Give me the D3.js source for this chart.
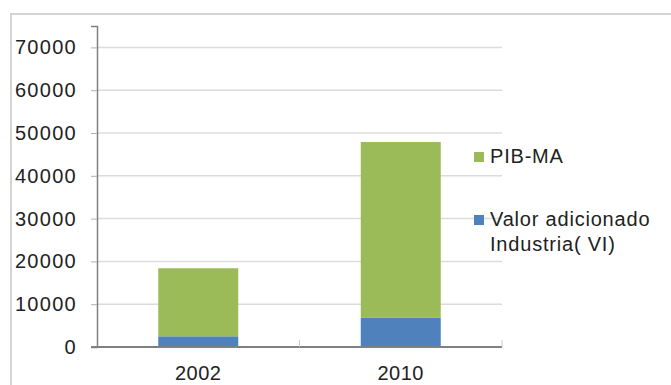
<!DOCTYPE html>
<html>
<head>
<meta charset="utf-8">
<script src="https://cdn.jsdelivr.net/npm/d3@7/dist/d3.min.js"></script>
<style>
  html, body { margin: 0; padding: 0; background: #fff; }
  svg { display: block; }
  text { font-family: "Liberation Sans", Arial, sans-serif; fill: #222; }
</style>
</head>
<body>
<svg id="chart" width="671" height="385"></svg>
<script>
// Years on the category axis
const categories = ["2002", "2010"];
// Stacked series, bottom to top
const industria = [2500, 6800];     // Valor adicionado Industria( VI)
const pibMA = [15900, 41100];       // PIB-MA (stacked above industry)
const seriesNames = ["Valor adicionado Industria( VI)", "PIB-MA"];
const seriesColors = ["#4f81bd", "#9bbb59"];
const yTicks = [0, 10000, 20000, 30000, 40000, 50000, 60000, 70000];

const svg = d3.select("#chart");

// outer frame of the chart area
svg.append("path")
  .attr("d", "M11,385 L11,14 L671,14")
  .attr("fill", "none")
  .attr("stroke", "#d4d4d4")
  .attr("stroke-width", 2);

const plot = { left: 97, right: 502, top: 26, bottom: 347 };

const y = d3.scaleLinear().domain([0, 75000]).range([plot.bottom, plot.top]);
const x = d3.scaleBand().domain(categories).range([plot.left, plot.right]).padding(0);
const barW = x.bandwidth() * 0.395;

// gridlines
svg.append("g").selectAll("line")
  .data(yTicks.filter(d => d > 0))
  .join("line")
  .attr("x1", plot.left).attr("x2", plot.right)
  .attr("y1", d => y(d)).attr("y2", d => y(d))
  .attr("stroke", "#dcdcdc").attr("stroke-width", 1.5);

// stacked bars
const rows = categories.map((c, i) => ({ cat: c, industria: industria[i], pib: pibMA[i] }));
const stack = d3.stack().keys(["industria", "pib"])(rows);

svg.append("g").selectAll("g")
  .data(stack)
  .join("g")
  .attr("fill", (d, i) => seriesColors[i])
  .selectAll("rect")
  .data(d => d)
  .join("rect")
  .attr("x", d => x(d.data.cat) + (x.bandwidth() - barW) / 2)
  .attr("width", barW)
  .attr("y", d => y(d[1]))
  .attr("height", d => y(d[0]) - y(d[1]));

// y axis
const yAxis = d3.axisLeft(y).tickValues(yTicks).tickSize(6).tickPadding(14).tickFormat(d3.format("d"));
const gy = svg.append("g").attr("transform", `translate(${plot.left},0)`).call(yAxis);
gy.select(".domain").attr("stroke", "#808080").attr("stroke-width", 1.5);
gy.selectAll(".tick line").attr("stroke", "#b0b0b0");
gy.selectAll(".tick text")
  .attr("font-size", 20).attr("letter-spacing", 1.3).attr("fill", "#222")
  .style("font-family", "'Liberation Sans', Arial, sans-serif");

// x axis
const gx = svg.append("g").attr("transform", `translate(0,${plot.bottom})`);
gx.append("line")
  .attr("x1", plot.left - 6).attr("x2", plot.right)
  .attr("y1", 0).attr("y2", 0)
  .attr("stroke", "#808080").attr("stroke-width", 2);
gx.selectAll("line.sep")
  .data(categories.slice(1).concat([null]))
  .join("line")
  .attr("class", "sep")
  .attr("x1", d => d === null ? plot.right : x(d))
  .attr("x2", d => d === null ? plot.right : x(d))
  .attr("y1", 0).attr("y2", -7)
  .attr("stroke", "#c8c8c8");
gx.selectAll("text")
  .data(categories)
  .join("text")
  .attr("x", d => x(d) + x.bandwidth() / 2)
  .attr("y", 33)
  .attr("text-anchor", "middle")
  .attr("font-size", 20).attr("letter-spacing", 0.5)
  .text(d => d);

// legend
const legend = svg.append("g").attr("transform", "translate(474,0)");
const legendItems = [
  { color: seriesColors[1], lines: [seriesNames[1]], y: 152 },
  { color: seriesColors[0], lines: ["Valor adicionado", "Industria( VI)"], y: 215 }
];
legendItems.forEach(item => {
  legend.append("rect")
    .attr("x", 0).attr("y", item.y).attr("width", 10).attr("height", 10)
    .attr("fill", item.color);
  item.lines.forEach((ln, j) => {
    legend.append("text")
      .attr("x", 16).attr("y", item.y + 11 + j * 25)
      .attr("font-size", 20).attr("letter-spacing", 0.8)
      .text(ln);
  });
});
</script>
</body>
</html>
